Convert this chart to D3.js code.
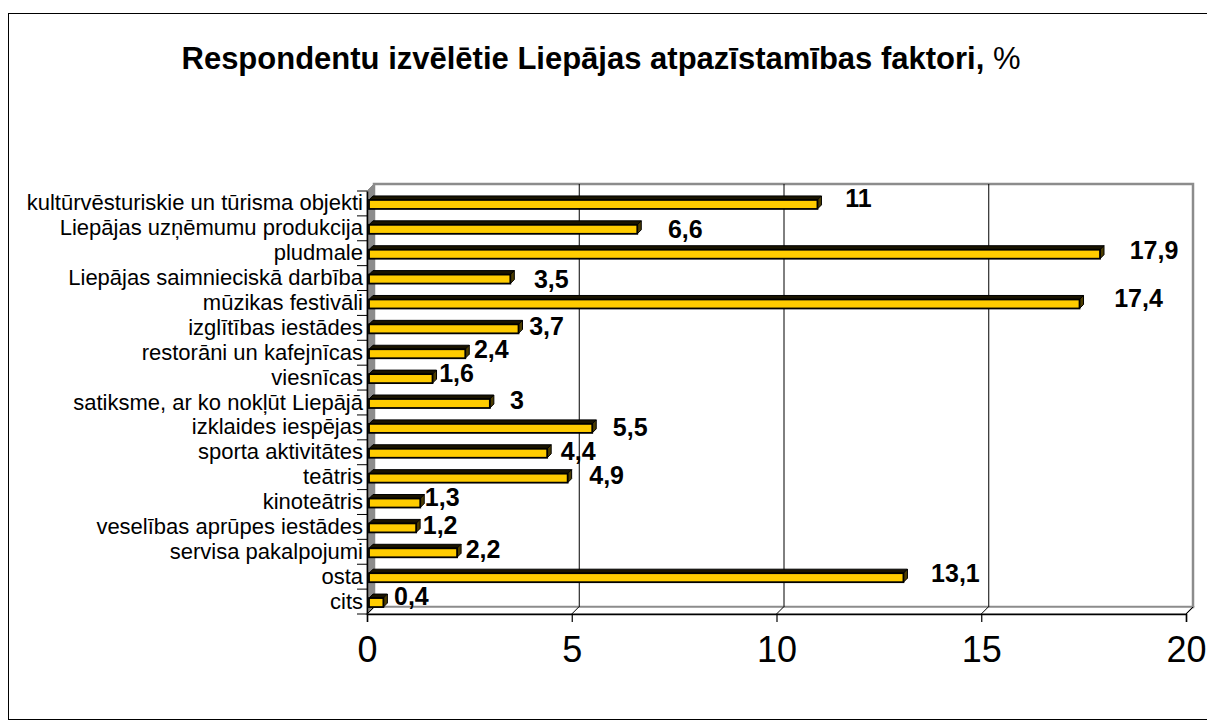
<!DOCTYPE html>
<html><head><meta charset="utf-8">
<script src="https://cdn.jsdelivr.net/npm/d3@7/dist/d3.min.js"></script>
<style>body{margin:0;background:#fff}svg{display:block}</style>
</head><body>
<script>
const categories = ["kultūrvēsturiskie un tūrisma objekti","Liepājas uzņēmumu produkcija","pludmale","Liepājas saimnieciskā darbība","mūzikas festivāli","izglītības iestādes","restorāni un kafejnīcas","viesnīcas","satiksme, ar ko nokļūt Liepājā","izklaides iespējas","sporta aktivitātes","teātris","kinoteātris","veselības aprūpes iestādes","servisa pakalpojumi","osta","cits"];
const values = [11, 6.6, 17.9, 3.5, 17.4, 3.7, 2.4, 1.6, 3, 5.5, 4.4, 4.9, 1.3, 1.2, 2.2, 13.1, 0.4];
const valueLabels = ["11","6,6","17,9","3,5","17,4","3,7","2,4","1,6","3","5,5","4,4","4,9","1,3","1,2","2,2","13,1","0,4"];
const tickValues = [0, 5, 10, 15, 20];
// layout nudges for value labels (px), mimicking original placement
const labelDx = [41,48,54,41,59,28,26,24,27,38,31,39,22,24,26,52,28];
const labelDy = [-5,1,-3,1,-5,-2,-3,-4,-2,0,-1,-2,-5,-2,-3,-3,-5];

const W = 1207, H = 727;
const FONT = "Liberation Sans, Arial, sans-serif";
const svg = d3.select("body").append("svg").attr("width", W).attr("height", H);

svg.append("rect").attr("x", 8.5).attr("y", 13.5).attr("width", 1220).attr("height", 706)
  .attr("fill", "#fff").attr("stroke", "#000").attr("stroke-width", 1);

const title = svg.append("text").attr("x", 601).attr("y", 69).attr("text-anchor", "middle")
  .attr("font-family", FONT).attr("font-size", 31);
title.append("tspan").attr("font-weight", "bold").text("Respondentu izvēlētie Liepājas atpazīstamības faktori,");
title.append("tspan").text(" %");

const x = d3.scaleLinear().domain([0, 20]).range([367, 1186]);
const y = d3.scaleBand().domain(categories).range([191, 614]);
const D = 7; // wall depth
const pTop = 191, pBot = 614;

// back wall
svg.append("rect").attr("x", x(0) + D).attr("y", pTop - D).attr("width", x(20) - x(0)).attr("height", pBot - pTop)
  .attr("fill", "#fff").attr("stroke", "#8c8c8c").attr("stroke-width", 2.5);
// left wall
svg.append("polygon").attr("points", [[x(0), pTop], [x(0) + D, pTop - D], [x(0) + D, pBot - D], [x(0), pBot]].join(" "))
  .attr("fill", "#8c8c8c").attr("stroke", "#8c8c8c").attr("stroke-width", 1);
// floor
svg.append("polygon").attr("points", [[x(0), pBot], [x(0) + D, pBot - D], [x(20) + D, pBot - D], [x(20), pBot]].join(" "))
  .attr("fill", "#fff").attr("stroke", "#8c8c8c").attr("stroke-width", 1.5);
// gridlines on back wall
svg.selectAll(".grid").data(tickValues.slice(1, -1)).join("line")
  .attr("x1", d => x(d) + D + 0.5).attr("x2", d => x(d) + D + 0.5)
  .attr("y1", pTop - D).attr("y2", pBot - D).attr("stroke", "#000").attr("stroke-width", 1);
svg.selectAll(".gridfloor").data(tickValues).join("line")
  .attr("x1", d => x(d)).attr("x2", d => x(d) + D)
  .attr("y1", pBot).attr("y2", pBot - D).attr("stroke", "#000").attr("stroke-width", 1);

// axes
const xAxis = d3.axisBottom(x).tickValues(tickValues).tickSize(8).tickPadding(14);
const gx = svg.append("g").attr("transform", `translate(0,${pBot})`).call(xAxis);
gx.select(".domain").attr("stroke", "#000").attr("stroke-width", 1.5);
gx.selectAll(".tick line").attr("stroke", "#000").attr("stroke-width", 1.2);
gx.selectAll(".tick text").attr("font-family", FONT).attr("font-size", 36).attr("fill", "#000");

const yAxis = d3.axisLeft(y).tickSize(0).tickPadding(4);
const gy = svg.append("g").attr("transform", `translate(${x(0)},0)`).call(yAxis);
gy.select(".domain").attr("stroke", "#000").attr("stroke-width", 1.5);
gy.selectAll(".tick text").attr("font-family", FONT).attr("font-size", 22).attr("fill", "#000");
// category separator ticks
const seps = categories.map(c => y(c)).concat([pBot]);
svg.selectAll(".sep").data(seps).join("line")
  .attr("x1", x(0) - 10).attr("x2", x(0)).attr("y1", d => d).attr("y2", d => d)
  .attr("stroke", "#000").attr("stroke-width", 1);

// bars
const dd = 4, bh = 9;
const bars = svg.selectAll(".bar").data(values).join("g");
bars.each(function (v, i) {
  const g = d3.select(this);
  const cy = y(categories[i]) + y.bandwidth() / 2 + 1;
  const x0 = x(0) + 2, x1 = x(v), yt = cy - bh / 2, yb = cy + bh / 2;
  g.append("polygon").attr("points", [[x0, yt], [x0 + dd, yt - dd], [x1 + dd, yt - dd], [x1, yt]].join(" "))
    .attr("fill", "#1a1400").attr("stroke", "#000").attr("stroke-width", 1);
  g.append("polygon").attr("points", [[x1, yt], [x1 + dd, yt - dd], [x1 + dd, yb - dd], [x1, yb]].join(" "))
    .attr("fill", "#4d3d00").attr("stroke", "#000").attr("stroke-width", 1);
  g.append("rect").attr("x", x0).attr("y", yt).attr("width", x1 - x0).attr("height", bh)
    .attr("fill", "#ffcc00").attr("stroke", "#000").attr("stroke-width", 1.8);
});

// value labels
svg.selectAll(".vlab").data(values).join("text")
  .attr("x", (v, i) => x(v) + labelDx[i])
  .attr("y", (v, i) => y(categories[i]) + y.bandwidth() / 2 + labelDy[i])
  .attr("dy", "0.35em").attr("text-anchor", "middle")
  .attr("font-family", FONT).attr("font-weight", "bold").attr("font-size", 25)
  .text((v, i) => valueLabels[i]);
</script>
</body></html>
